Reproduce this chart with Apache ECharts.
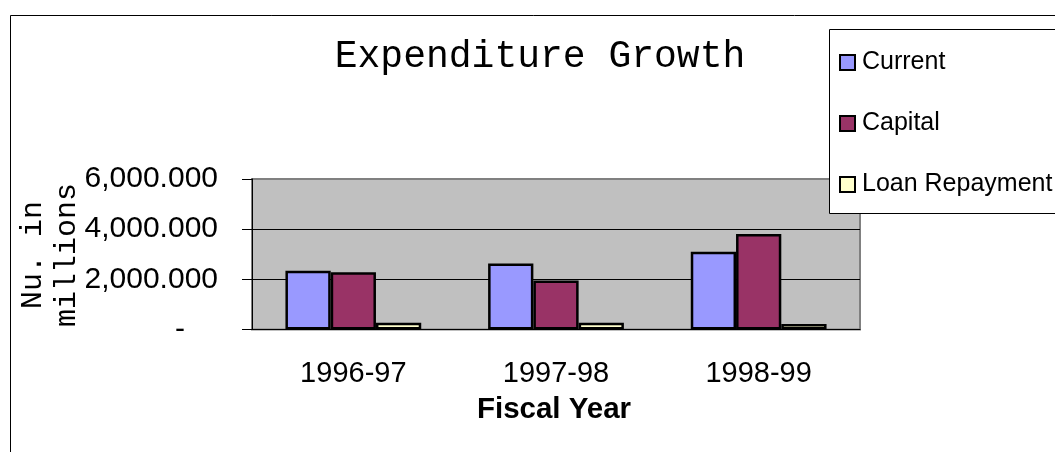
<!DOCTYPE html>
<html>
<head>
<meta charset="utf-8">
<script src="https://cdn.jsdelivr.net/npm/echarts@6/dist/echarts.min.js"></script>
<style>
  html, body { margin: 0; padding: 0; background: #fff; }
  #chart { width: 1055px; height: 452px; }
</style>
</head>
<body>
<div id="chart"></div>
<script>
// data (Nu. in millions)
const years = ['1996-97', '1997-98', '1998-99']
const current = [2340, 2630, 3100]
const capital = [2280, 1950, 3810]
const loanRepayment = [270, 270, 220]
const yTicks = { min: 0, max: 6000, step: 2000 }

const sans = 'Liberation Sans, Arial, sans-serif'
const mono = 'Liberation Mono, Courier New, monospace'

// 6000 -> 6,000.000 ; 0 -> "-" like Excel accounting format
function fmt(v) {
  if (v === 0) return '{dash|-}'
  const parts = v.toFixed(3).split('.')
  return parts[0].replace(/\B(?=(\d{3})+(?!\d))/g, ',') + '.' + parts[1]
}

const myChart = echarts.init(document.getElementById('chart'))

const barStyle = color => ({ color: color, borderColor: '#000', borderWidth: 2.5 })

const option = {
  backgroundColor: '#fff',
  animation: false,
  graphic: [
    {
      type: 'rect', // outer chart frame
      shape: { x: 10.5, y: 15.5, width: 1200, height: 600 },
      style: { fill: 'none', stroke: '#000', lineWidth: 1 },
      z: 0
    },
    {
      type: 'rect', // legend box
      shape: { x: 829.5, y: 29.5, width: 300, height: 184 },
      style: { fill: '#fff', stroke: '#000', lineWidth: 1 },
      z: 1
    },
    {
      type: 'text', // y axis title, drawn here so it sits where the original does
      x: 50,
      y: 255,
      rotation: Math.PI / 2,
      style: {
        text: 'Nu. in\nmillions',
        font: '30px ' + mono,
        fill: '#000',
        align: 'center',
        verticalAlign: 'middle',
        lineHeight: 34
      },
      z: 2
    }
  ],
  title: {
    text: 'Expenditure Growth',
    left: 535,
    top: 33,
    textAlign: 'center',
    textStyle: { fontFamily: mono, fontSize: 38, fontWeight: 'normal', color: '#000' }
  },
  legend: {
    orient: 'vertical',
    left: 834,
    top: 45,
    icon: 'rect',
    itemWidth: 15,
    itemHeight: 15,
    itemGap: 36,
    z: 5,
    textStyle: { fontFamily: sans, fontSize: 25, color: '#000', padding: [0, 0, 0, 2] },
    data: ['Current', 'Capital', 'Loan Repayment']
  },
  grid: {
    left: 252,
    right: 195,
    top: 179,
    bottom: 122.5,
    show: true,
    backgroundColor: '#c0c0c0',
    borderColor: '#808080',
    borderWidth: 2
  },
  xAxis: {
    type: 'category',
    data: years,
    name: 'Fiscal Year',
    nameLocation: 'middle',
    nameGap: 65,
    nameTextStyle: { fontFamily: sans, fontSize: 29.5, fontWeight: 'bold', color: '#000', padding: [0, 4, 0, 0] },
    axisLine: { lineStyle: { color: '#000', width: 1 } },
    axisTick: { length: 10, lineStyle: { color: '#000' } },
    axisLabel: { fontFamily: sans, fontSize: 29, color: '#000', margin: 30 }
  },
  yAxis: {
    type: 'value',
    min: yTicks.min,
    max: yTicks.max,
    interval: yTicks.step,
    axisLine: { show: true, lineStyle: { color: '#000', width: 1 } },
    axisTick: { show: true, length: 10, lineStyle: { color: '#000' } },
    splitLine: { showMaxLine: false, showMinLine: false, lineStyle: { color: '#000', width: 1 } },
    axisLabel: {
      fontFamily: sans,
      fontSize: 30,
      color: '#000',
      margin: 34,
      formatter: fmt,
      rich: { dash: { fontFamily: sans, fontSize: 30, color: '#000', padding: [0, 33, 0, 0] } }
    }
  },
  series: [
    { name: 'Current', type: 'bar', data: current, barGap: '0%', barCategoryGap: '33%', itemStyle: barStyle('#9999ff') },
    { name: 'Capital', type: 'bar', data: capital, itemStyle: barStyle('#993366') },
    { name: 'Loan Repayment', type: 'bar', data: loanRepayment, itemStyle: barStyle('#ffffcc') }
  ]
}

myChart.setOption(option)
</script>
</body>
</html>
